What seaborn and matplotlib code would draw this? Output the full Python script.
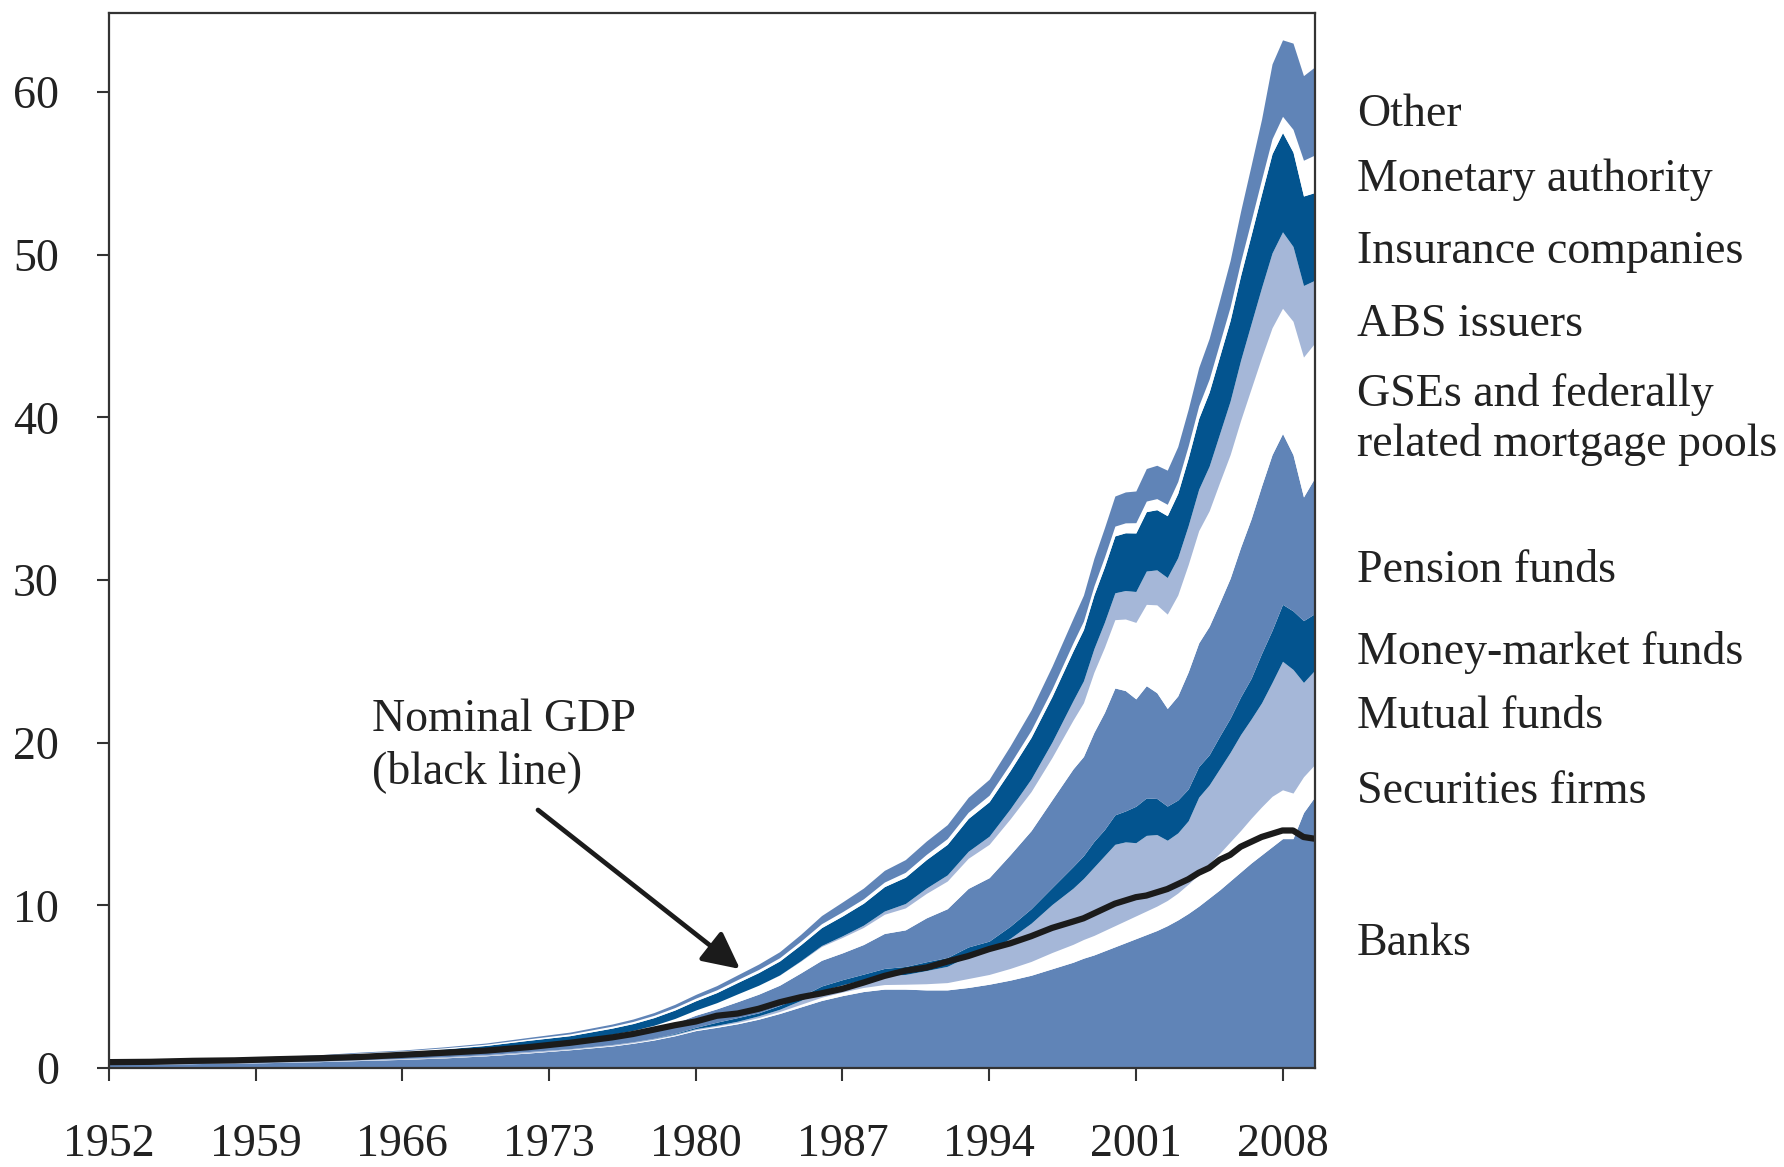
import matplotlib
matplotlib.use("Agg")
import matplotlib.pyplot as plt
import seaborn as sns

# time axis (biennial early on, annual, then half-yearly)
years = [1952, 1954, 1956, 1958, 1960, 1962, 1964, 1966, 1968, 1970, 1972, 1974, 1976,
         1977, 1978, 1979, 1980, 1981, 1982, 1983, 1984, 1985, 1986, 1987, 1988, 1989,
         1990, 1991, 1992, 1993, 1994, 1995, 1996, 1997,
         1998, 1998.5, 1999, 1999.5, 2000, 2000.5, 2001, 2001.5, 2002, 2002.5, 2003, 2003.5,
         2004, 2004.5, 2005, 2005.5, 2006, 2006.5, 2007, 2007.5, 2008, 2008.5, 2009, 2009.5]

# $ trillions
gdp = [0.36, 0.38, 0.44, 0.47, 0.54, 0.60, 0.68, 0.81, 0.94, 1.07, 1.28, 1.55, 1.88,
       2.09, 2.36, 2.63, 2.86, 3.21, 3.35, 3.64, 4.04, 4.35, 4.59, 4.87, 5.25, 5.66,
       5.98, 6.17, 6.54, 6.88, 7.31, 7.66, 8.10, 8.61,
       9.0, 9.2, 9.5, 9.8, 10.1, 10.3, 10.5, 10.6, 10.8, 11.0, 11.3, 11.6,
       12.0, 12.3, 12.8, 13.1, 13.6, 13.9, 14.2, 14.4, 14.6, 14.6, 14.2, 14.1]

banks = [0.22, 0.24, 0.27, 0.30, 0.34, 0.39, 0.46, 0.53, 0.62, 0.75, 0.92, 1.12, 1.35,
         1.52, 1.72, 1.98, 2.30, 2.50, 2.72, 3.00, 3.35, 3.75, 4.15, 4.45, 4.70, 4.85,
         4.85, 4.80, 4.80, 4.95, 5.15, 5.40, 5.70, 6.10,
         6.50, 6.75, 6.95, 7.20, 7.45, 7.70, 7.95, 8.20, 8.45, 8.75, 9.10, 9.50,
         9.95, 10.45, 10.95, 11.50, 12.05, 12.60, 13.10, 13.60, 14.10, 14.10, 15.70, 16.60]

securities = [0.01, 0.01, 0.01, 0.01, 0.01, 0.01, 0.02, 0.02, 0.02, 0.02, 0.03, 0.03, 0.04,
              0.04, 0.05, 0.05, 0.06, 0.07, 0.08, 0.10, 0.12, 0.16, 0.20, 0.22, 0.25, 0.28,
              0.30, 0.38, 0.45, 0.55, 0.60, 0.72, 0.85, 1.00,
              1.10, 1.15, 1.20, 1.25, 1.30, 1.35, 1.40, 1.45, 1.50, 1.55, 1.65, 1.80,
              1.95, 2.10, 2.25, 2.40, 2.55, 2.75, 2.95, 3.10, 3.00, 2.80, 2.20, 2.00]

mutual = [0.004, 0.006, 0.009, 0.013, 0.017, 0.022, 0.029, 0.035, 0.052, 0.048, 0.06, 0.036, 0.047,
          0.046, 0.046, 0.05, 0.06, 0.06, 0.08, 0.11, 0.14, 0.24, 0.40, 0.45, 0.48, 0.56,
          0.60, 0.81, 1.00, 1.38, 1.45, 1.85, 2.35, 2.95,
          3.45, 3.75, 4.20, 4.60, 5.00, 4.85, 4.50, 4.65, 4.40, 3.70, 3.70, 3.90,
          4.75, 4.85, 5.20, 5.50, 5.90, 6.10, 6.40, 7.00, 7.90, 7.60, 5.80, 5.80]

money_market = [0, 0, 0, 0, 0, 0, 0, 0, 0, 0, 0, 0.002, 0.004,
                0.004, 0.011, 0.045, 0.076, 0.186, 0.22, 0.18, 0.23, 0.24, 0.29, 0.31, 0.34, 0.43,
                0.49, 0.54, 0.54, 0.56, 0.60, 0.74, 0.89, 1.04,
                1.33, 1.40, 1.58, 1.60, 1.81, 1.90, 2.24, 2.30, 2.22, 2.10, 2.02, 1.95,
                1.88, 1.85, 2.00, 2.10, 2.31, 2.50, 3.03, 3.20, 3.50, 3.60, 3.80, 3.50]

pension = [0.03, 0.04, 0.05, 0.07, 0.09, 0.11, 0.14, 0.16, 0.20, 0.24, 0.30, 0.33, 0.45,
           0.50, 0.56, 0.64, 0.75, 0.82, 0.98, 1.15, 1.25, 1.45, 1.58, 1.65, 1.82, 2.15,
           2.25, 2.70, 3.00, 3.60, 3.90, 4.40, 4.80, 5.40,
           6.00, 6.10, 6.70, 7.20, 7.80, 7.40, 6.60, 6.90, 6.50, 6.00, 6.40, 7.20,
           7.60, 7.90, 8.20, 8.60, 9.20, 9.80, 10.30, 10.80, 10.50, 9.60, 7.60, 8.30]

gse = [0.01, 0.01, 0.02, 0.02, 0.03, 0.03, 0.04, 0.05, 0.06, 0.08, 0.10, 0.14, 0.18,
       0.20, 0.24, 0.28, 0.32, 0.38, 0.48, 0.55, 0.62, 0.72, 0.85, 0.95, 1.05, 1.18,
       1.35, 1.50, 1.70, 1.85, 2.05, 2.20, 2.40, 2.60,
       3.00, 3.30, 3.70, 4.00, 4.20, 4.40, 4.70, 5.00, 5.40, 5.80, 6.20, 6.60,
       6.90, 7.10, 7.40, 7.60, 7.80, 8.00, 7.90, 7.80, 7.70, 8.20, 8.60, 8.30]

abs_issuers = [0, 0, 0, 0, 0, 0, 0, 0, 0, 0, 0, 0, 0,
               0, 0, 0, 0, 0, 0, 0, 0.01, 0.03, 0.06, 0.10, 0.14, 0.20,
               0.27, 0.33, 0.38, 0.43, 0.50, 0.62, 0.78, 0.95,
               1.20, 1.35, 1.45, 1.55, 1.65, 1.75, 1.90, 2.05, 2.15, 2.25, 2.30, 2.40,
               2.55, 2.75, 3.00, 3.30, 3.70, 4.00, 4.30, 4.60, 4.70, 4.60, 4.40, 3.90]

insurance = [0.08, 0.09, 0.11, 0.12, 0.14, 0.16, 0.18, 0.20, 0.22, 0.25, 0.29, 0.33, 0.38,
             0.42, 0.47, 0.52, 0.57, 0.62, 0.70, 0.78, 0.86, 0.98, 1.10, 1.22, 1.35, 1.50,
             1.62, 1.75, 1.88, 2.02, 2.12, 2.35, 2.55, 2.80,
             3.05, 3.15, 3.30, 3.40, 3.50, 3.55, 3.60, 3.65, 3.70, 3.80, 3.95, 4.15,
             4.35, 4.55, 4.75, 4.95, 5.20, 5.45, 5.75, 6.10, 6.10, 5.80, 5.50, 5.40]

monetary = [0.05, 0.05, 0.05, 0.05, 0.05, 0.05, 0.06, 0.06, 0.07, 0.08, 0.09, 0.11, 0.12,
            0.13, 0.14, 0.15, 0.16, 0.17, 0.18, 0.19, 0.20, 0.22, 0.24, 0.26, 0.27, 0.28,
            0.30, 0.32, 0.35, 0.38, 0.40, 0.42, 0.44, 0.46,
            0.50, 0.52, 0.55, 0.60, 0.60, 0.61, 0.63, 0.65, 0.68, 0.70, 0.73, 0.75,
            0.78, 0.80, 0.82, 0.84, 0.86, 0.88, 0.90, 0.92, 1.00, 1.40, 2.20, 2.30]

other = [0.02, 0.02, 0.03, 0.03, 0.04, 0.04, 0.05, 0.05, 0.06, 0.07, 0.09, 0.11, 0.13,
         0.15, 0.17, 0.20, 0.23, 0.26, 0.29, 0.33, 0.37, 0.42, 0.50, 0.60, 0.66, 0.72,
         0.78, 0.82, 0.86, 0.92, 0.98, 1.10, 1.25, 1.40,
         1.50, 1.60, 1.70, 1.80, 1.85, 1.90, 1.95, 2.00, 2.05, 2.10, 2.15, 2.25,
         2.35, 2.50, 2.65, 2.85, 3.10, 3.40, 3.70, 4.60, 4.70, 5.30, 5.20, 5.40]

sector_names = ["Banks", "Securities firms", "Mutual funds", "Money-market funds",
                "Pension funds", "GSEs and federally\nrelated mortgage pools",
                "ABS issuers", "Insurance companies", "Monetary authority", "Other"]

MID = "#6084b7"
DARK = "#03548f"
LIGHT = "#a5b7d8"
WHITE = "#ffffff"
sector_colors = [MID, WHITE, LIGHT, DARK, MID, WHITE, LIGHT, DARK, WHITE, MID]

# vertical position of each right-hand label (figure fraction)
label_y = [0.1915, 0.3213, 0.386, 0.4413, 0.5111, 0.6405, 0.7219, 0.7845, 0.8462, 0.9015]

sns.set_style("ticks")
plt.rcParams["font.family"] = ["Liberation Serif", "DejaVu Serif"]
TXT = "#222222"
FS = 33

fig = plt.figure(figsize=(17.84, 11.67), dpi=100)
ax = fig.add_axes([109 / 1784, 1 - 1068 / 1167, (1315 - 109) / 1784, (1068 - 13) / 1167])

ax.stackplot(years, banks, securities, mutual, money_market, pension, gse,
             abs_issuers, insurance, monetary, other,
             colors=sector_colors, linewidth=0)
sns.lineplot(x=years, y=gdp, ax=ax, color="#1b1b1b", linewidth=4.5)

ax.set_xlim(1952, 2009.55)
ax.set_ylim(0, 64.85)
ax.set_xticks(range(1952, 2009, 7))
ax.set_yticks(range(0, 61, 10))
ax.set_xlabel("")
ax.set_ylabel("")
ax.tick_params(axis="both", labelsize=FS, colors="#333333", labelcolor=TXT,
               length=9, width=1.5, direction="out", bottom=True, left=True)
ax.tick_params(axis="x", pad=31)
ax.tick_params(axis="y", pad=27)
for sp in ax.spines.values():
    sp.set_visible(True)
    sp.set_color("#333333")
    sp.set_linewidth(1.6)

for name, yy in zip(sector_names, label_y):
    fig.text(1357 / 1784, yy, name, fontsize=FS, color=TXT, va="center", ha="left",
             linespacing=1.24)

fig.text(372 / 1784, 1 - 746 / 1167, "Nominal GDP\n(black line)", fontsize=FS,
         color=TXT, va="center", ha="left", linespacing=1.27)
ax.annotate("", xy=(740 / 1784, 1 - 969 / 1167), xycoords="figure fraction",
            xytext=(538 / 1784, 1 - 810 / 1167), textcoords="figure fraction",
            arrowprops=dict(arrowstyle="-|>", color="#1b1b1b", lw=3.4, mutation_scale=56,
                            shrinkA=0, shrinkB=0))

fig.savefig("out.png", dpi=100)
